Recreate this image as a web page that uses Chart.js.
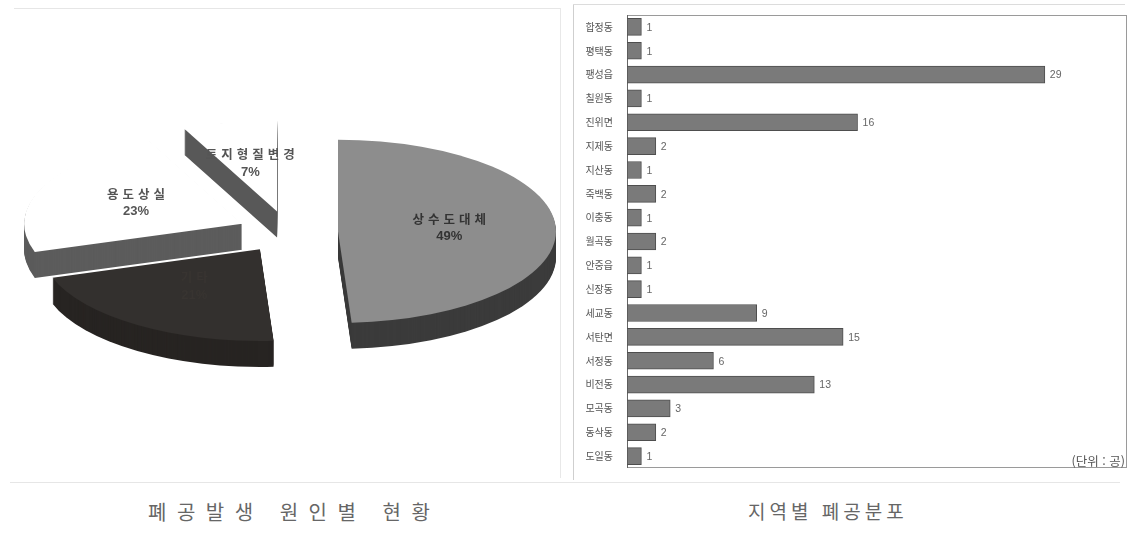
<!DOCTYPE html>
<html lang="ko">
<head>
<meta charset="utf-8">
<title>폐공 현황</title>
<script src="https://cdn.jsdelivr.net/npm/chart.js@4/dist/chart.umd.min.js"></script>
<style>
  body { margin: 0; background: #fff; width: 1129px; height: 533px; position: relative; overflow: hidden; }
  .box { position: absolute; }
  #pieBox { left: 0; top: 0; width: 576px; height: 464px; }
  #barBox { left: 575px; top: 0; width: 554px; height: 480px; }
  .line { position: absolute; background: #ddd; }
  .caption { position: absolute; top: 497px; font-family: "Noto Sans CJK KR", sans-serif; font-size: 19px; color: #666; letter-spacing: 6px; white-space: nowrap; }
  #unit { position: absolute; right: 4px; top: 451px; font-family: "Noto Sans CJK KR", sans-serif; font-size: 12.5px; color: #555; }
</style>
</head>
<body>
<div class="line" style="left:14px; top:8px; width:547px; height:1px; background:#e6e6e6"></div>
<div class="line" style="left:560px; top:8px; width:1px; height:470px; background:#e8e8e8"></div>
<div class="line" style="left:573px; top:4px; width:1px; height:476px; background:#cfcfcf"></div>
<div class="line" style="left:573px; top:4px; width:552px; height:1px; background:#dcdcdc"></div>
<div class="line" style="left:10px; top:482px; width:1110px; height:1px; background:#e6e6e6"></div>

<div class="box" id="pieBox"><canvas id="causeChart"></canvas></div>
<div class="box" id="barBox"><canvas id="regionChart"></canvas></div>
<div id="unit">(단위 : 공)</div>

<div class="caption" style="left:148px; font-size:20px; letter-spacing:10.5px">폐공발생 원인별 현황</div>
<div class="caption" style="left:748px; letter-spacing:4px">지역별 폐공분포</div>

<script>
// 폐공발생 원인 (%)
const causeLabels = ['상수도대체', '기타', '용도상실', '토지형질변경'];
const causeShares = [49, 21, 23, 7];
const causeTopColors = ['#8d8d8d', '#33302e', '#ffffff', '#ffffff'];
const causeSideColors = ['#3b3b3b', '#272422', '#5c5c5c', '#585858'];
const causeTextColors = ['#333333', '#383431', '#555555', '#555555'];

// 지역별 폐공 수
const regions = ['합정동', '평택동', '팽성읍', '칠원동', '진위면', '지제동', '지산동', '죽백동', '이충동',
    '월곡동', '안중읍', '신장동', '세교동', '서탄면', '서정동', '비전동', '모곡동', '동삭동', '도일동'];
const wellCounts = [1, 1, 29, 1, 16, 2, 1, 2, 1, 2, 1, 1, 9, 15, 6, 13, 3, 2, 1];

// exploded, tilted pie drawn from the arc elements Chart.js lays out
const pie3d = {
    id: 'pie3d',
    beforeDatasetsDraw(chart, args, opts) {
        const ctx = chart.ctx;
        const arcs = chart.getDatasetMeta(0).data;
        const slices = arcs.map((arc, i) => {
            const p = arc.getProps(['x', 'y', 'startAngle', 'endAngle', 'outerRadius'], true);
            const mid = (p.startAngle + p.endAngle) / 2;
            return {
                i, mid, r: p.outerRadius, s: p.startAngle, e: p.endAngle,
                cx: p.x + Math.cos(mid) * opts.explode,
                cy: p.y + Math.sin(mid) * opts.explode * opts.tilt
            };
        });

        function path(sl, dy) {
            ctx.beginPath();
            ctx.moveTo(sl.cx, sl.cy + dy);
            ctx.ellipse(sl.cx, sl.cy + dy, sl.r, sl.r * opts.tilt, 0, sl.s, sl.e);
            ctx.closePath();
        }

        // back slices first
        const order = [...slices].sort((a, b) => Math.sin(a.mid) - Math.sin(b.mid));
        ctx.save();
        order.forEach(sl => {
            ctx.fillStyle = opts.sideColors[sl.i];
            for (let d = opts.depth; d >= 1; d--) {
                path(sl, d);
                ctx.fill();
            }
            ctx.fillStyle = opts.topColors[sl.i];
            path(sl, 0);
            ctx.fill();
        });

        // slice labels
        ctx.textAlign = 'center';
        ctx.textBaseline = 'middle';
        slices.forEach(sl => {
            const lx = sl.cx + Math.cos(sl.mid) * sl.r * 0.52;
            const ly = sl.cy + Math.sin(sl.mid) * sl.r * opts.tilt * 0.52 - 2;
            ctx.fillStyle = opts.textColors[sl.i];
            ctx.font = 'bold 12.5px "Noto Sans CJK KR"';
            ctx.letterSpacing = '4px';
            ctx.fillText(chart.data.labels[sl.i], lx, ly - 9);
            ctx.font = 'bold 13px "Liberation Sans"';
            ctx.letterSpacing = '0px';
            ctx.fillText(chart.data.datasets[0].data[sl.i] + '%', lx - 2, ly + 9);
        });
        ctx.restore();
        return false;
    }
};

new Chart(document.getElementById('causeChart'), {
    type: 'pie',
    data: {
        labels: causeLabels,
        datasets: [{
            data: causeShares,
            backgroundColor: causeTopColors,
            borderWidth: 0,
            radius: 218
        }]
    },
    options: {
        responsive: true,
        maintainAspectRatio: false,
        animation: false,
        events: [],
        layout: { padding: 0 },
        plugins: {
            legend: { display: false },
            tooltip: { enabled: false },
            pie3d: {
                explode: 50,
                tilt: 0.42,
                depth: 26,
                topColors: causeTopColors,
                sideColors: causeSideColors,
                textColors: causeTextColors
            }
        }
    },
    plugins: [pie3d]
});

// plot frame and value labels for the bar chart
const plotFrame = {
    id: 'plotFrame',
    beforeDatasetsDraw(chart) {
        const { ctx, chartArea: a } = chart;
        ctx.save();
        ctx.strokeStyle = '#9a9a9a';
        ctx.lineWidth = 1;
        ctx.strokeRect(a.left + 0.5, a.top + 0.5, a.right - a.left - 1, a.bottom - a.top - 1);
        ctx.strokeStyle = '#666';
        ctx.beginPath();
        ctx.moveTo(a.left + 0.5, a.top);
        ctx.lineTo(a.left + 0.5, a.bottom);
        ctx.stroke();
        ctx.restore();
    },
    afterDatasetsDraw(chart) {
        const ctx = chart.ctx;
        const meta = chart.getDatasetMeta(0);
        ctx.save();
        ctx.font = '10.5px "Liberation Sans"';
        ctx.fillStyle = '#666';
        ctx.textBaseline = 'middle';
        meta.data.forEach((bar, i) => {
            ctx.fillText(String(chart.data.datasets[0].data[i]), bar.x + 5, bar.y + 1);
        });
        ctx.restore();
    }
};

new Chart(document.getElementById('regionChart'), {
    type: 'bar',
    data: {
        labels: regions,
        datasets: [{
            data: wellCounts,
            backgroundColor: '#7a7a7a',
            borderColor: '#4e4e4e',
            borderWidth: 1,
            borderSkipped: false,
            barThickness: 17
        }]
    },
    options: {
        indexAxis: 'y',
        responsive: true,
        maintainAspectRatio: false,
        animation: false,
        events: [],
        layout: { padding: { top: 15, bottom: 8, left: 0, right: 2 } },
        plugins: {
            legend: { display: false },
            tooltip: { enabled: false }
        },
        scales: {
            x: {
                display: false,
                min: 0,
                max: 34.7
            },
            y: {
                afterFit(scale) { scale.width = 52; },
                grid: { display: false },
                border: { display: false },
                ticks: {
                    color: '#555',
                    padding: 6,
                    font: { family: '"Noto Sans CJK KR"', size: 10 }
                }
            }
        }
    },
    plugins: [plotFrame]
});
</script>
</body>
</html>
